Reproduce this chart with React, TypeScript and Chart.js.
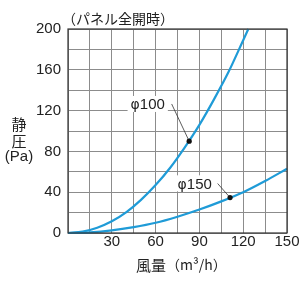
import React, { useEffect, useRef } from "react";
import { Chart, registerables } from "chart.js";

Chart.register(...registerables);

const phi100X = [0, 10, 20, 30, 40, 50, 60, 70, 80, 90, 100, 110, 120, 123.5];
const phi100Y = [0, 1.3, 5.2, 11.5, 20.5, 32.5, 47, 64, 84, 106, 131, 158, 189, 200];
const phi150X = [0, 15, 30, 45, 60, 75, 90, 105, 120, 135, 150];
const phi150Y = [0, 0.6, 2.5, 5.7, 10, 16, 23, 31, 40, 51, 63];

const seriesSymbol = "φ";
const seriesSizes = ["100", "150"];
const markerPoints = [
  { x: 83, y: 90 },
  { x: 111, y: 34.7 },
];
const labelAnchors = [
  { x: 54.6, y: 126.5 },
  { x: 86.8, y: 48.7 },
];
const leaderStarts = [
  { x: 71, y: 126.5 },
  { x: 102.5, y: 48.5 },
];

const titleText = "（パネル全開時）";
const yTitleLines = ["静", "圧", "(Pa)"];
const xTitleMain = "風量";
const xTitleUnit = "（m³/h）";

const BLUE = "#1f9bd7";
const TEXT = "#222";
const FONT = "'Liberation Sans', Arial, sans-serif";
const SFONT = "'DejaVu Sans', sans-serif";
const JFONT = "'Noto Sans CJK JP', sans-serif";

const annotPlugin = {
  id: "annot",
  afterDatasetsDraw(chart: any) {
    const { ctx, scales, chartArea } = chart;
    const xs = scales.x;
    const ys = scales.y;
    ctx.save();
    for (let i = 0; i < 2; i++) {
      const p = markerPoints[i];
      const s = leaderStarts[i];
      ctx.strokeStyle = "#333";
      ctx.lineWidth = 0.8;
      ctx.beginPath();
      ctx.moveTo(xs.getPixelForValue(s.x), ys.getPixelForValue(s.y));
      ctx.lineTo(xs.getPixelForValue(p.x), ys.getPixelForValue(p.y));
      ctx.stroke();
      ctx.fillStyle = "#111";
      ctx.beginPath();
      ctx.arc(xs.getPixelForValue(p.x), ys.getPixelForValue(p.y), 2.6, 0, Math.PI * 2);
      ctx.fill();
    }
    ctx.textBaseline = "alphabetic";
    for (let i = 0; i < 2; i++) {
      const a = labelAnchors[i];
      const px = xs.getPixelForValue(a.x);
      const py = ys.getPixelForValue(a.y);
      ctx.font = `14px ${SFONT}`;
      const w0 = ctx.measureText(seriesSymbol).width;
      ctx.font = `15px ${FONT}`;
      const w1 = ctx.measureText(seriesSizes[i]).width;
      const w = w0 + w1;
      ctx.fillStyle = "#fff";
      ctx.fillRect(px - w / 2 - 3, py - 8, w + 6, 16);
      ctx.fillStyle = TEXT;
      ctx.textAlign = "left";
      ctx.font = `14px ${SFONT}`;
      ctx.fillText(seriesSymbol, px - w / 2, py + 5.5);
      ctx.font = `15px ${FONT}`;
      ctx.fillText(seriesSizes[i], px - w / 2 + w0, py + 5.5);
    }
    ctx.textBaseline = "middle";
    ctx.font = `14px ${JFONT}`;
    ctx.textAlign = "left";
    ctx.fillText(titleText, chartArea.left - 6, 19);
    ctx.textAlign = "center";
    ctx.font = `15px ${JFONT}`;
    ctx.fillText(yTitleLines[0], 19, 124);
    ctx.fillText(yTitleLines[1], 19, 141);
    ctx.font = `15px ${FONT}`;
    ctx.fillText(yTitleLines[2], 19, 157);
    ctx.textAlign = "left";
    ctx.font = `15px ${JFONT}`;
    ctx.fillText(xTitleMain, 136, 265);
    const w1 = ctx.measureText(xTitleMain).width;
    ctx.font = `14px ${JFONT}`;
    ctx.fillText(xTitleUnit, 136 + w1, 265);
    ctx.strokeStyle = "#333";
    ctx.lineWidth = 1.2;
    ctx.strokeRect(chartArea.left, chartArea.top, chartArea.right - chartArea.left, chartArea.bottom - chartArea.top);
    ctx.restore();
  },
};

export default function App() {
  const ref = useRef<HTMLCanvasElement>(null);
  useEffect(() => {
    document.body.style.margin = "0";
    const chart = new Chart(ref.current!, {
      type: "scatter",
      data: {
        datasets: [
          {
            data: phi100X.map((x, i) => ({ x, y: phi100Y[i] })),
            showLine: true,
            borderColor: BLUE,
            borderWidth: 2.2,
            pointRadius: 0,
            cubicInterpolationMode: "monotone",
            clip: 2,
          },
          {
            data: phi150X.map((x, i) => ({ x, y: phi150Y[i] })),
            showLine: true,
            borderColor: BLUE,
            borderWidth: 2.2,
            pointRadius: 0,
            cubicInterpolationMode: "monotone",
            clip: 2,
          },
        ],
      },
      options: {
        responsive: false,
        animation: false,
        layout: { padding: { top: 29, right: 18, left: 0, bottom: 0 } },
        plugins: { legend: { display: false }, tooltip: { enabled: false } },
        scales: {
          x: {
            type: "linear",
            min: 0,
            max: 150,
            border: { display: false },
            grid: { color: "#8c8c8c", lineWidth: 1, drawTicks: false },
            ticks: {
              stepSize: 15,
              padding: 0,
              color: TEXT,
              font: { size: 15, family: FONT },
              autoSkip: false,
              maxRotation: 0,
              callback: (v: any) => (v % 30 === 0 && v !== 0 ? String(v) : ""),
            },
            afterFit: (s: any) => {
              s.height = 51;
            },
          },
          y: {
            type: "linear",
            min: 0,
            max: 200,
            border: { display: false },
            grid: { color: "#8c8c8c", lineWidth: 1, drawTicks: false },
            ticks: {
              stepSize: 20,
              padding: 7,
              color: TEXT,
              font: { size: 15, family: FONT },
              autoSkip: false,
              callback: (v: any) => (v % 40 === 0 ? String(v) : ""),
            },
            afterFit: (s: any) => {
              s.width = 68;
            },
          },
        },
      },
      plugins: [annotPlugin],
    } as any);
    return () => chart.destroy();
  }, []);
  return <canvas ref={ref} width={305} height={284} style={{ display: "block" }} />;
}
